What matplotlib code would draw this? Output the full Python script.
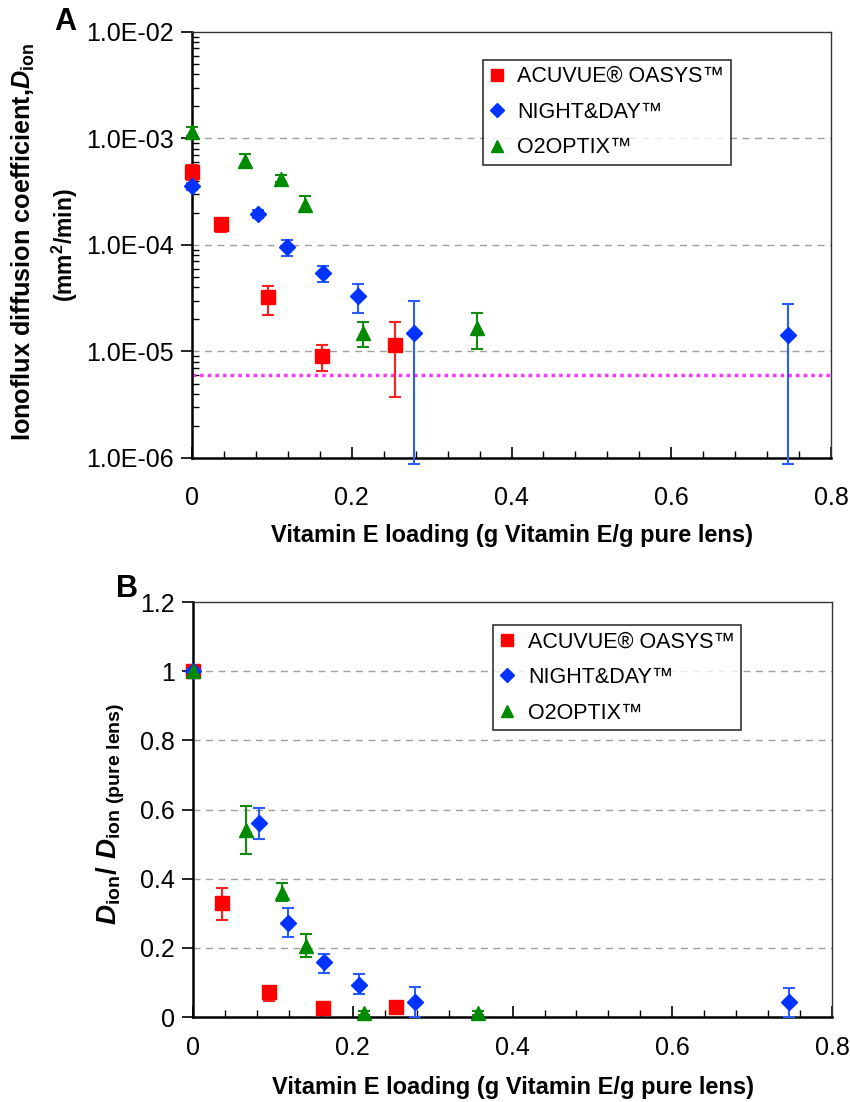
import numpy as np
import matplotlib
matplotlib.use("Agg")
import matplotlib.pyplot as plt
from matplotlib.ticker import FixedLocator, FuncFormatter, LogLocator, NullFormatter, MultipleLocator

plt.rcParams["font.family"] = ["Liberation Sans", "DejaVu Sans"]
plt.rcParams["mathtext.fontset"] = "custom"
plt.rcParams["mathtext.rm"] = "Liberation Sans:bold"
plt.rcParams["mathtext.bf"] = "Liberation Sans:bold"
plt.rcParams["mathtext.it"] = "Liberation Sans:bold:italic"
plt.rcParams["mathtext.bfit"] = "Liberation Sans:bold:italic"

SERIES = ["ACUVUE\u00ae OASYS\u2122", "NIGHT&DAY\u2122", "O2OPTIX\u2122"]
COLORS = ["#ff0000", "#0033ff", "#008a00"]
ECOLORS = ["#ff2020", "#2a5cff", "#108a10"]
MARKERS = ["s", "D", "^"]
MSIZES = [10, 8.5, 10]

# panel A: ionoflux diffusion coefficient (mm2/min)
acu_x = [0.0, 0.036, 0.095, 0.163, 0.254]
acu_d = [4.8e-4, 1.56e-4, 3.27e-5, 9.1e-6, 1.14e-5]
acu_d_hi = [5.65e-4, 1.75e-4, 4.15e-5, 1.16e-5, 1.89e-5]
acu_d_lo = [4.1e-4, 1.32e-4, 2.19e-5, 6.5e-6, 3.7e-6]

nd_x = [0.0, 0.082, 0.119, 0.164, 0.208, 0.278, 0.746]
nd_d = [3.55e-4, 1.95e-4, 9.5e-5, 5.4e-5, 3.3e-5, 1.5e-5, 1.42e-5]
nd_d_hi = [3.8e-4, 2.12e-4, 1.11e-4, 6.4e-5, 4.3e-5, 2.98e-5, 2.8e-5]
nd_d_lo = [3.3e-4, 1.79e-4, 7.9e-5, 4.45e-5, 2.3e-5, 8.8e-7, 8.8e-7]

o2_x = [0.0, 0.066, 0.111, 0.142, 0.214, 0.357]
o2_d = [1.16e-3, 6.2e-4, 4.2e-4, 2.38e-4, 1.48e-5, 1.65e-5]
o2_d_hi = [1.29e-3, 7.15e-4, 4.57e-4, 2.88e-4, 1.89e-5, 2.31e-5]
o2_d_lo = [1.05e-3, 5.5e-4, 3.9e-4, 2.1e-4, 1.11e-5, 1.05e-5]

detection_limit = 6.0e-6

# panel B: D_ion / D_ion(pure lens)
acu_r = [1.0, 0.331, 0.071, 0.025, 0.028]
acu_r_hi = [1.0, 0.374, 0.088, 0.030, 0.033]
acu_r_lo = [1.0, 0.281, 0.047, 0.020, 0.023]

nd_r = [1.0, 0.562, 0.273, 0.158, 0.094, 0.044, 0.043]
nd_r_hi = [1.0, 0.603, 0.315, 0.183, 0.124, 0.087, 0.083]
nd_r_lo = [1.0, 0.516, 0.230, 0.128, 0.068, 0.0, 0.0]

o2_r = [1.0, 0.541, 0.360, 0.206, 0.012, 0.012]
o2_r_hi = [1.0, 0.611, 0.387, 0.239, 0.017, 0.018]
o2_r_lo = [1.0, 0.471, 0.336, 0.175, 0.007, 0.006]

x_ticks = [0, 0.2, 0.4, 0.6, 0.8]
xlabel = "Vitamin E loading (g Vitamin E/g pure lens)"

fig = plt.figure(figsize=(8.5, 11.02), dpi=100)
axA = fig.add_axes([0.2259, 0.5844, 0.7518, 0.3866])
axB = fig.add_axes([0.2271, 0.0771, 0.7518, 0.3766])


def draw_series(ax, xs_list, ys_list, hi_list, lo_list):
    for i in range(3):
        xs = np.array(xs_list[i])
        ys = np.array(ys_list[i])
        err = [ys - np.array(lo_list[i]), np.array(hi_list[i]) - ys]
        eb = ax.errorbar(xs, ys, yerr=err, fmt="none", ecolor=ECOLORS[i],
                         elinewidth=1.5, capsize=4.5, capthick=1.5, zorder=3)
        for art in list(eb.lines[1]) + list(eb.lines[2]):
            art.set_clip_on(False)
        ax.plot(xs, ys, linestyle="none", marker=MARKERS[i], ms=MSIZES[i],
                color=COLORS[i], mec=COLORS[i], label=SERIES[i], zorder=4,
                clip_on=False)


def style_axes(ax, anchor):
    ax.set_xlim(0, 0.8)
    ax.xaxis.set_major_locator(FixedLocator(x_ticks))
    ax.xaxis.set_minor_locator(MultipleLocator(0.04))
    ax.xaxis.set_major_formatter(FuncFormatter(lambda v, p: f"{v:g}"))
    ax.tick_params(axis="x", which="major", direction="in", length=8, width=1.2,
                   labelsize=18, top=False)
    ax.tick_params(axis="x", which="minor", direction="in", length=5, width=1.0, top=False)
    for s in ["left", "bottom"]:
        ax.spines[s].set_linewidth(1.8)
    for s in ["top", "right"]:
        ax.spines[s].set_linewidth(1.0)
        ax.spines[s].set_color("#333333")
    ax.set_xlabel(xlabel, fontsize=17, fontweight="bold")
    leg = ax.legend(loc="upper left", bbox_to_anchor=anchor,
                    fontsize=15.5, frameon=True, fancybox=False, edgecolor="black",
                    handlelength=0.7, handletextpad=0.6, borderpad=0.3,
                    labelspacing=0.68, borderaxespad=0, markerscale=0.85)
    leg.get_frame().set_linewidth(1.2)


# ---- panel A ----
draw_series(axA, [acu_x, nd_x, o2_x], [acu_d, nd_d, o2_d],
            [acu_d_hi, nd_d_hi, o2_d_hi], [acu_d_lo, nd_d_lo, o2_d_lo])
axA.set_yscale("log")
axA.set_ylim(1e-6, 1e-2)
axA.axhline(detection_limit, color="#ff33ff", lw=2.5, ls=(0, (1, 1.2)), zorder=2)
axA.yaxis.set_major_locator(FixedLocator([1e-6, 1e-5, 1e-4, 1e-3, 1e-2]))
axA.yaxis.set_minor_locator(LogLocator(base=10, subs=np.arange(2, 10)))
axA.yaxis.set_minor_formatter(NullFormatter())
axA.yaxis.set_major_formatter(FuncFormatter(lambda v, p: "{:.1E}".format(v)))
for yv in [1e-5, 1e-4, 1e-3]:
    axA.axhline(yv, color="#a0a0a0", lw=1.0, ls=(0, (5, 4)), zorder=1)
axA.tick_params(axis="y", which="major", direction="out", length=8, width=1.2,
                labelsize=18, pad=5)
axA.tick_params(axis="y", which="minor", direction="in", length=5, width=1.0)
style_axes(axA, (0.455, 0.935))
axA.tick_params(axis="x", which="major", pad=20)
axA.xaxis.labelpad = 10
# two-line y label, first line a little larger as in the original
fig.text(23 / 850, 1 - 242 / 1102,
         "Ionoflux diffusion coefficient,$\\mathbfit{D}_{\\mathbf{ion}}$",
         rotation=90, fontsize=18.2, fontweight="bold", ha="center", va="center")
fig.text(65 / 850, 1 - 245 / 1102, "(mm$^\\mathbf{2}$/min)",
         rotation=90, fontsize=16.5, fontweight="bold", ha="center", va="center")
fig.text(0.064, 0.980, "A", fontsize=22, fontweight="bold", ha="left", va="center")

# ---- panel B ----
draw_series(axB, [acu_x, nd_x, o2_x], [acu_r, nd_r, o2_r],
            [acu_r_hi, nd_r_hi, o2_r_hi], [acu_r_lo, nd_r_lo, o2_r_lo])
axB.set_ylim(0, 1.2)
axB.yaxis.set_major_locator(MultipleLocator(0.2))
axB.yaxis.set_major_formatter(FuncFormatter(lambda v, p: f"{v:g}"))
for yv in [0.2, 0.4, 0.6, 0.8, 1.0]:
    axB.axhline(yv, color="#a0a0a0", lw=1.0, ls=(0, (5, 4)), zorder=1)
axB.tick_params(axis="y", which="major", direction="out", length=8, width=1.2,
                labelsize=18, pad=5)
style_axes(axB, (0.47, 0.945))
axB.tick_params(axis="x", which="major", pad=14)
axB.xaxis.labelpad = 11
axB.set_ylabel("$\\mathbfit{D}_{\\mathbf{ion}}\\mathbf{/}\\ \\mathbfit{D}_{\\mathbf{ion\\ (pure\\ lens)}}$",
               fontsize=20)
axB.yaxis.set_label_coords(-0.103, 0.49)
fig.text(0.137, 0.4655, "B", fontsize=22, fontweight="bold", ha="left", va="center")

fig.savefig("out.png", dpi=100)
